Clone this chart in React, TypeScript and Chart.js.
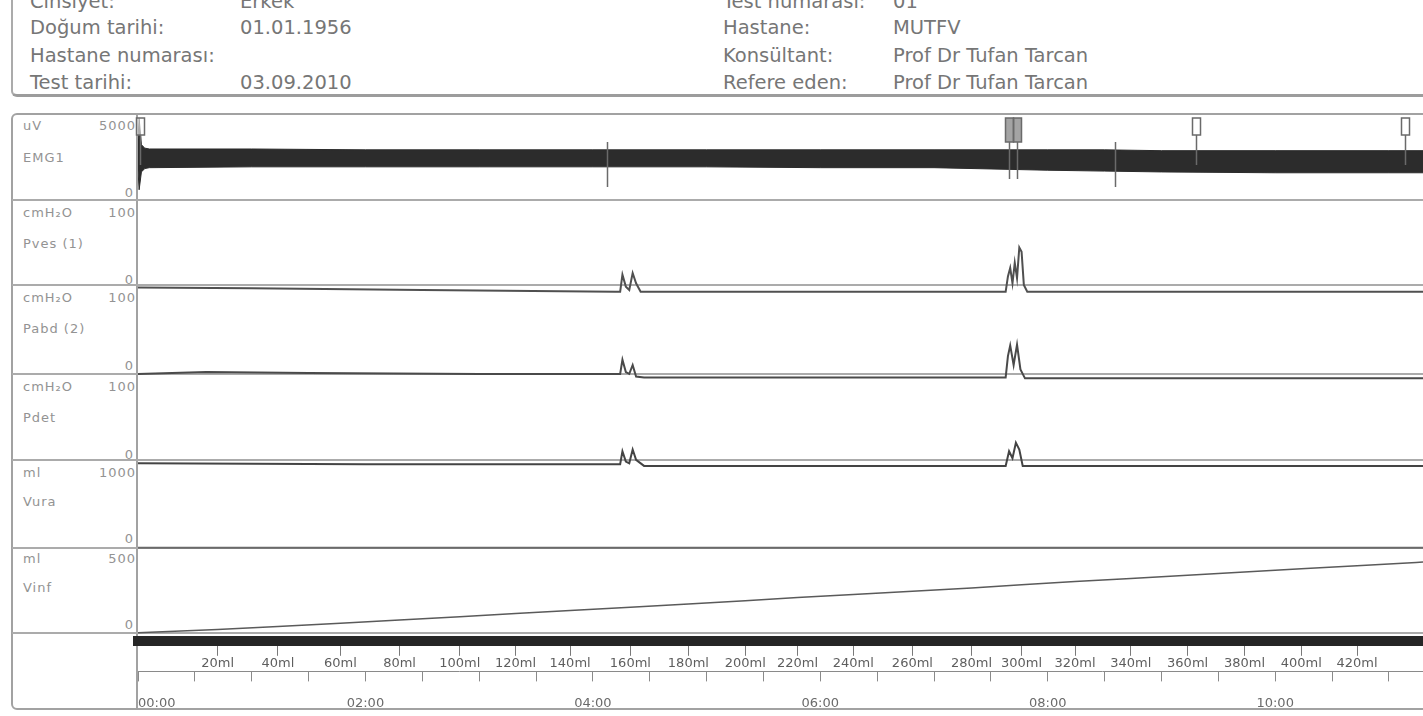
import React, { useEffect, useRef } from 'react';
import { Chart, registerables } from 'chart.js';

Chart.register(...registerables);

// ---- recording data (time in minutes) ----

// EMG1 envelope (uV)
const emgTimes = [0, 0.01, 0.03, 0.06, 0.1, 1, 2, 3, 4, 5, 6, 7, 8, 8.5, 9, 10, 11, 11.3];
const emgUpper = [3550, 4800, 3250, 3050, 3000, 3000, 2950, 2950, 2950, 2950, 2950, 2950, 2950, 2950, 2900, 2900, 2900, 2900];
const emgLower = [1750, 600, 1650, 1850, 1900, 1950, 1950, 1950, 1950, 1950, 1900, 1900, 1750, 1700, 1650, 1600, 1600, 1600];

// Pves (1), cmH2O
const pvesTimes = [0, 1.0, 2.5, 4.2, 4.24, 4.26, 4.29, 4.32, 4.35, 4.38, 4.42, 4.6, 6.0, 7.63, 7.65, 7.67, 7.69, 7.71, 7.73, 7.75, 7.77, 7.79, 7.82, 8.0, 11.3];
const pvesValues = [-3, -4, -6, -8, -8, 12, -2, -6, 14, 2, -8, -8, -8, -8, 10, 20, 2, 26, 8, 44, 39, 0, -8, -8, -8];

// Pabd (2), cmH2O
const pabdTimes = [0, 0.3, 0.6, 1.5, 3.0, 4.2, 4.24, 4.26, 4.29, 4.32, 4.35, 4.38, 4.45, 6.0, 7.63, 7.65, 7.67, 7.7, 7.73, 7.76, 7.8, 8.0, 11.3];
const pabdValues = [0, 1, 2, 1, 0, 0, 0, 16, 2, 0, 10, -3, -4, -4, -4, 20, 32, 10, 33, 5, -5, -5, -5];

// Pdet, cmH2O
const pdetTimes = [0, 2, 4.2, 4.24, 4.26, 4.29, 4.32, 4.35, 4.38, 4.45, 6, 7.63, 7.66, 7.69, 7.72, 7.75, 7.78, 7.82, 11.3];
const pdetValues = [-4, -5, -5, -5, 10, -2, -4, 12, 0, -7, -7, -7, 10, 2, 20, 12, -7, -7, -7];

// Vura, ml
const vuraTimes = [0, 11.3];
const vuraValues = [0, 0];

// Infused volume, ml (also labels the volume axis)
const infusedTimes = [0, 0.7, 1.23, 1.78, 2.3, 2.83, 3.32, 3.8, 4.33, 4.84, 5.34, 5.8, 6.29, 6.81, 7.33, 7.77, 8.24, 8.73, 9.23, 9.73, 10.23, 10.72, 11.24, 11.3];
const infusedVolumes = [0, 20, 40, 60, 80, 100, 120, 140, 160, 180, 200, 220, 240, 260, 280, 300, 320, 340, 360, 380, 400, 420, 440, 442];

// volume marks shown under the traces
const volumeMarkTimes = infusedTimes.slice(1, 22);
const volumeMarkLabels = infusedVolumes.slice(1, 22).map((v) => `${v}ml`);

// clock labels on the time axis
const timeLabelMinutes = [0, 2, 4, 6, 8, 10];
const timeTickLabels = ['00:00', '02:00', '04:00', '06:00', '08:00', '10:00'];

// event marks on the EMG channel
const eventTimes = [0.02, 4.12, 7.66, 7.73, 8.59, 9.3, 11.14];
const eventKinds = ['box', 'line', 'tall', 'tall', 'line', 'box', 'box'];

// header fields
const headerLeft = [
  ['Cinsiyet:', 'Erkek'],
  ['Doğum tarihi:', '01.01.1956'],
  ['Hastane numarası:', ''],
  ['Test tarihi:', '03.09.2010'],
];
const headerRight = [
  ['Test numarası:', '01'],
  ['Hastane:', 'MUTFV'],
  ['Konsültant:', 'Prof Dr Tufan Tarcan'],
  ['Refere eden:', 'Prof Dr Tufan Tarcan'],
];

// channel captions
const channelUnits = ['uV', 'cmH₂O', 'cmH₂O', 'cmH₂O', 'ml', 'ml'];
const channelMax = ['5000', '100', '100', '100', '1000', '500'];
const channelNames = ['EMG1', 'Pves (1)', 'Pabd (2)', 'Pdet', 'Vura', 'Vinf'];

// ---- layout ----
const PAGE_W = 1423;
const PAGE_H = 716;
const CANVAS_TOP = 108;
const CANVAS_H = 622;
const AREA_TOP = 115;
const AREA_BOTTOM = 641;
const AREA_LEFT = 138;
const MINUTES_MAX = 11.3;
const ROW_LINES = [115, 200, 285, 374, 460, 548, 633];
const FONT = '"DejaVu Sans", "Liberation Sans", sans-serif';

// linear axis whose value 0 sits at zeroY and fullValue at fullY (page px)
function rowAxis(zeroY: number, fullY: number, fullValue: number) {
  const perPx = fullValue / (zeroY - fullY);
  return {
    type: 'linear' as const,
    display: false,
    min: -(AREA_BOTTOM - zeroY) * perPx,
    max: (zeroY - AREA_TOP) * perPx,
  };
}

const toPoints = (ts: number[], vs: number[]) => ts.map((t, i) => ({ x: t, y: vs[i] }));

const eventMarkPlugin = {
  id: 'eventMarks',
  afterDatasetsDraw(chart: any) {
    const { ctx } = chart;
    const xs = chart.scales.x;
    const top = chart.chartArea.top;
    ctx.save();
    ctx.strokeStyle = '#6a6a6a';
    ctx.lineWidth = 1.5;
    eventTimes.forEach((t, i) => {
      const px = Math.round(xs.getPixelForValue(t)) + 0.5;
      const kind = eventKinds[i];
      ctx.beginPath();
      if (kind === 'line') {
        ctx.moveTo(px, top + 27);
        ctx.lineTo(px, top + 72);
        ctx.stroke();
      } else {
        const h = kind === 'tall' ? 24 : 17;
        ctx.fillStyle = kind === 'tall' ? 'rgba(90,90,90,0.55)' : 'rgba(255,255,255,0.6)';
        ctx.fillRect(px - 4, top + 3, 8, h);
        ctx.strokeRect(px - 4, top + 3, 8, h);
        ctx.moveTo(px, top + 3 + h);
        ctx.lineTo(px, top + (kind === 'tall' ? 64 : 50));
        ctx.stroke();
      }
    });
    ctx.restore();
  },
};

function TraceChart() {
  const canvasRef = useRef<HTMLCanvasElement | null>(null);

  useEffect(() => {
    if (!canvasRef.current) return;
    const traceLine = (data: any[], yAxisID: string, color: string, width: number) => ({
      data,
      yAxisID,
      borderColor: color,
      backgroundColor: color,
      borderWidth: width,
      pointRadius: 0,
      tension: 0,
      fill: false,
    });

    const chart = new Chart(canvasRef.current, {
      type: 'line',
      data: {
        datasets: [
          { ...traceLine(toPoints(emgTimes, emgUpper), 'yEmg', '#2c2c2c', 1), fill: '+1' },
          traceLine(toPoints(emgTimes, emgLower), 'yEmg', '#2c2c2c', 1),
          traceLine(toPoints(pvesTimes, pvesValues), 'yPves', '#505050', 2),
          traceLine(toPoints(pabdTimes, pabdValues), 'yPabd', '#4a4a4a', 2),
          traceLine(toPoints(pdetTimes, pdetValues), 'yPdet', '#444444', 2),
          traceLine(toPoints(vuraTimes, vuraValues), 'yVura', '#6a6a6a', 2),
          traceLine(toPoints(infusedTimes, infusedVolumes), 'yVinf', '#5a5a5a', 1.5),
        ],
      },
      options: {
        animation: false,
        responsive: true,
        maintainAspectRatio: false,
        devicePixelRatio: 1,
        layout: {
          padding: { left: AREA_LEFT, top: AREA_TOP - CANVAS_TOP, right: 0, bottom: 5 },
        },
        plugins: {
          legend: { display: false },
          tooltip: { enabled: false },
          title: { display: false },
        },
        scales: {
          x: {
            type: 'linear',
            position: 'bottom',
            weight: 1,
            min: 0,
            max: MINUTES_MAX,
            ticks: {
              stepSize: 0.5,
              includeBounds: false,
              autoSkip: false,
              maxRotation: 0,
              align: 'inner',
              padding: 14,
              color: '#6a6a6a',
              font: { family: FONT, size: 13 },
              callback: (value: any) => {
                const i = timeLabelMinutes.indexOf(Number(value));
                return i >= 0 ? timeTickLabels[i] : '';
              },
            },
            grid: { drawOnChartArea: false, drawTicks: true, tickLength: 10, color: '#8a8a8a', lineWidth: 1 },
            border: { display: true, width: 1, color: '#8a8a8a' },
          },
          xVol: {
            type: 'linear',
            position: 'bottom',
            weight: 0,
            min: 0,
            max: MINUTES_MAX,
            afterBuildTicks: (scale: any) => {
              scale.ticks = volumeMarkTimes.map((value) => ({ value }));
            },
            ticks: {
              autoSkip: false,
              maxRotation: 0,
              padding: 0,
              color: '#5e5e5e',
              font: { family: FONT, size: 13 },
              callback: (_v: any, i: number) => volumeMarkLabels[i],
            },
            grid: { drawOnChartArea: false, drawTicks: true, tickLength: 15, color: '#7a7a7a', lineWidth: 1 },
            border: { display: true, width: 10, color: '#262626' },
          },
          yEmg: rowAxis(200, 115, 5000),
          yPves: rowAxis(285, 200, 100),
          yPabd: rowAxis(374, 285, 100),
          yPdet: rowAxis(460, 374, 100),
          yVura: rowAxis(548, 460, 1000),
          yVinf: rowAxis(633, 553, 500),
        },
      } as any,
      plugins: [eventMarkPlugin],
    });
    return () => chart.destroy();
  }, []);

  return (
    <div style={{ position: 'absolute', left: 0, top: CANVAS_TOP, width: PAGE_W, height: CANVAS_H }}>
      <canvas ref={canvasRef} />
    </div>
  );
}

const headerText: React.CSSProperties = {
  position: 'absolute',
  fontFamily: FONT,
  fontSize: 19.5,
  lineHeight: '19.5px',
  color: '#767676',
  whiteSpace: 'nowrap',
};

const captionText: React.CSSProperties = {
  position: 'absolute',
  fontFamily: FONT,
  fontSize: 13,
  lineHeight: '13px',
  letterSpacing: 1,
  color: '#939393',
  whiteSpace: 'nowrap',
  transform: 'translateY(-50%)',
};

export default function App() {
  const headerBaselines = [8, 34, 62, 89];
  const rowOffsets = [
    { unit: 10, name: 42, zero: 77 },
    { unit: 12, name: 43, zero: 79 },
    { unit: 12, name: 43, zero: 80 },
    { unit: 12, name: 43, zero: 80 },
    { unit: 12, name: 41, zero: 78 },
    { unit: 10, name: 39, zero: 76 },
  ];

  return (
    <div
      style={{
        position: 'absolute',
        left: 0,
        top: 0,
        width: PAGE_W,
        height: PAGE_H,
        overflow: 'hidden',
        background: '#ffffff',
      }}
    >
      {/* header frame */}
      <div
        style={{
          position: 'absolute',
          left: 11,
          top: -6,
          width: 1460,
          height: 100,
          borderLeft: '2px solid #ababab',
          borderBottom: '3px solid #9c9c9c',
          borderBottomLeftRadius: 6,
        }}
      />
      {headerLeft.map(([label, value], i) => (
        <React.Fragment key={`hl${i}`}>
          <div style={{ ...headerText, left: 30, top: headerBaselines[i] - 16.5 }}>{label}</div>
          <div style={{ ...headerText, left: 240, top: headerBaselines[i] - 16.5 }}>{value}</div>
        </React.Fragment>
      ))}
      {headerRight.map(([label, value], i) => (
        <React.Fragment key={`hr${i}`}>
          <div style={{ ...headerText, left: 723, top: headerBaselines[i] - 16.5 }}>{label}</div>
          <div style={{ ...headerText, left: 893, top: headerBaselines[i] - 16.5 }}>{value}</div>
        </React.Fragment>
      ))}

      {/* trace frame */}
      <div
        style={{
          position: 'absolute',
          left: 11,
          top: 113,
          width: 1460,
          height: 593,
          border: '2px solid #a2a2a2',
          borderRadius: 6,
        }}
      />
      <div style={{ position: 'absolute', left: 136, top: 114, width: 2, height: 594, background: '#a2a2a2' }} />
      {ROW_LINES.slice(1).map((y) => (
        <div key={`sep${y}`} style={{ position: 'absolute', left: 12, top: y - 1, width: PAGE_W, height: 2, background: '#ababab' }} />
      ))}

      {/* channel captions */}
      {channelNames.map((name, i) => {
        const top = ROW_LINES[i];
        const o = rowOffsets[i];
        return (
          <React.Fragment key={`cap${i}`}>
            <div style={{ ...captionText, left: 23, top: top + o.unit }}>{channelUnits[i]}</div>
            <div style={{ ...captionText, right: PAGE_W - 136, top: top + o.unit }}>{channelMax[i]}</div>
            <div style={{ ...captionText, left: 23, top: top + o.name }}>{name}</div>
            <div style={{ ...captionText, right: PAGE_W - 134, top: top + o.zero }}>0</div>
          </React.Fragment>
        );
      })}

      <TraceChart />
    </div>
  );
}
